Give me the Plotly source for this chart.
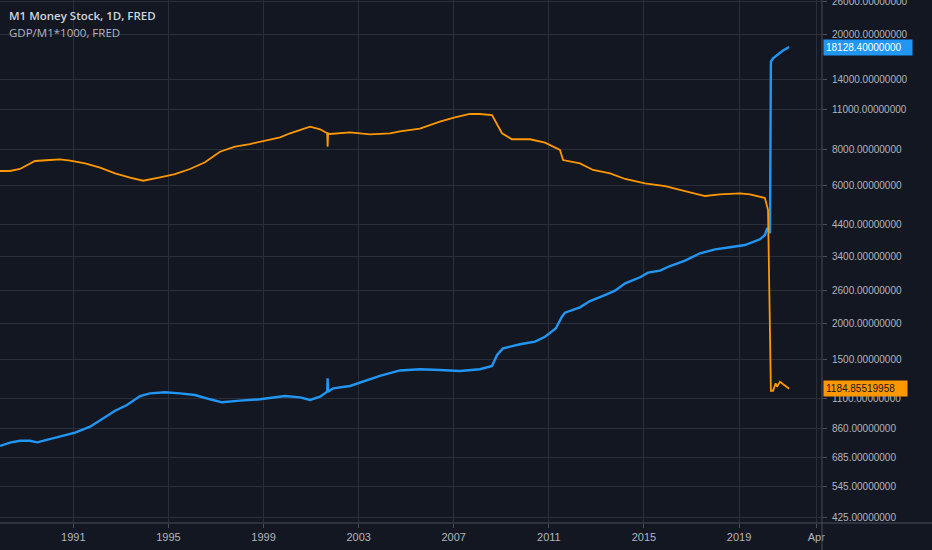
import math
import plotly.graph_objects as go

# ---- data ----
m1_dates = [
    "1987-12-02", "1988-05-03", "1988-10-04", "1989-03-07", "1989-06-24", "1990-01-08",
    "1990-08-28", "1991-01-29", "1991-09-16", "1992-02-16", "1992-10-04", "1993-04-05",
    "1993-10-23", "1994-03-25", "1994-11-10", "1995-06-28", "1996-02-13", "1996-10-01",
    "1997-04-05", "1998-01-04", "1998-11-07", "1999-11-28", "2000-07-15", "2000-12-16",
    "2001-05-19", "2001-09-05", "2001-09-12", "2001-09-19", "2001-12-05", "2002-08-22",
    "2003-04-09", "2003-11-24", "2004-09-27", "2005-07-31", "2006-06-02", "2007-04-05",
    "2008-02-06", "2008-08-11", "2008-10-27", "2009-01-26", "2009-10-16", "2010-06-03",
    "2010-11-03", "2011-04-20", "2011-07-20", "2011-09-05", "2012-04-23", "2012-09-24",
    "2013-05-11", "2013-10-13", "2014-03-18", "2014-11-03", "2015-03-04", "2015-09-05",
    "2016-02-06", "2016-09-23", "2017-05-11", "2017-12-28", "2018-08-15", "2019-04-02",
    "2019-11-17", "2020-02-02", "2020-03-10", "2020-04-20", "2020-05-04", "2020-06-06",
    "2020-11-06", "2021-02-09",
]
m1_values = [
    751, 771, 783, 783, 773, 792,
    815, 835, 876, 924, 995, 1041,
    1119, 1143, 1153, 1143, 1128, 1090,
    1064, 1078, 1090, 1119, 1107, 1084,
    1113, 1158, 1289, 1158, 1190, 1212,
    1264, 1313, 1372, 1385, 1377, 1366,
    1385, 1422, 1552, 1637, 1691, 1726,
    1796, 1921, 2107, 2175, 2271, 2388,
    2505, 2593, 2751, 2886, 2994, 3042,
    3158, 3295, 3495, 3608, 3666, 3734,
    3908, 4045, 4277, 4100, 16126, 16568,
    17631, 18128.4,
]

ratio_dates = [
    "1987-12-02", "1988-05-03", "1988-10-04", "1989-05-22", "1990-01-08", "1990-06-10",
    "1990-11-14", "1991-07-02", "1992-02-16", "1992-10-04", "1993-05-22", "1993-12-09",
    "1994-08-25", "1995-04-12", "1995-11-28", "1996-07-16", "1997-03-03", "1997-10-19",
    "1998-06-06", "1999-01-26", "1999-09-12", "2000-02-13", "2000-07-15", "2000-12-16",
    "2001-05-19", "2001-09-05", "2001-09-12", "2001-09-19", "2001-10-20", "2002-08-22",
    "2003-06-24", "2004-04-26", "2004-09-27", "2005-02-27", "2005-07-31", "2006-06-02",
    "2007-01-18", "2007-09-05", "2008-02-06", "2008-08-11", "2008-11-10", "2009-01-11",
    "2009-06-13", "2010-03-18", "2010-11-03", "2011-06-21", "2011-08-07", "2012-04-23",
    "2012-11-10", "2013-07-31", "2014-03-18", "2015-01-18", "2015-11-21", "2016-09-23",
    "2017-07-27", "2018-03-14", "2019-01-15", "2019-06-17", "2019-11-17", "2020-02-02",
    "2020-03-21", "2020-05-04", "2020-06-06", "2020-07-16", "2020-08-07", "2020-09-20",
    "2021-02-09",
]
ratio_values = [
    6741, 6741, 6850, 7301, 7358, 7398,
    7318, 7166, 6919, 6617, 6389, 6238,
    6409, 6580, 6850, 7225, 7863, 8182,
    8360, 8565, 8822, 9108, 9350, 9600,
    9401, 9108, 8182, 9108, 9057, 9180,
    9035, 9108, 9250, 9350, 9450, 9991,
    10350, 10625, 10625, 10540, 9600, 9108,
    8683, 8683, 8449, 7970, 7358, 7166,
    6796, 6617, 6324, 6111, 5979, 5759,
    5521, 5597, 5641, 5597, 5491, 5435,
    4937, 1167, 1167, 1238, 1205, 1254,
    1184.85519958,
]

y_ticks = [425, 545, 685, 860, 1100, 1500, 2000, 2600, 3400, 4400, 6000, 8000,
           11000, 14000, 20000, 26000]
x_tick_dates = ["1991-01-01", "1995-01-01", "1999-01-01", "2003-01-01", "2007-01-01",
                "2011-01-01", "2015-01-01", "2019-01-01", "2022-04-01"]
x_tick_labels = ["1991", "1995", "1999", "2003", "2007", "2011", "2015", "2019", "Apr"]

series_names = ["M1 Money Stock, 1D, FRED", "GDP/M1*1000, FRED"]
last_m1 = "18128.40000000"
last_ratio = "1184.85519958"

BG = "#131722"
GRID = "#2a2e39"
BORDER = "#4b4f5b"
TXT = "#b2b5be"
BLUE = "#2196f3"
ORANGE = "#ff9800"
NUMFONT = "Liberation Sans, Arial, sans-serif"

fig = go.Figure()
fig.add_trace(go.Scatter(x=m1_dates, y=m1_values, mode="lines",
                         line=dict(color=BLUE, width=2.4), hoverinfo="skip"))
fig.add_trace(go.Scatter(x=ratio_dates, y=ratio_values, mode="lines",
                         line=dict(color=ORANGE, width=1.8), hoverinfo="skip"))

fig.update_layout(
    width=932, height=550,
    margin=dict(l=0, r=110, t=0, b=27, autoexpand=False),
    paper_bgcolor=BG, plot_bgcolor=BG,
    showlegend=False,
    font=dict(family=NUMFONT, color=TXT, size=11),
    xaxis=dict(
        type="date", range=["1987-12-02", "2022-06-28"],
        tickvals=x_tick_dates, ticktext=x_tick_labels,
        showgrid=True, gridcolor=GRID, gridwidth=1,
        ticks="outside", ticklen=4, tickcolor=BORDER,
        showline=False, zeroline=False,
        tickfont=dict(size=11, color=TXT),
    ),
    yaxis=dict(
        type="log", side="right",
        range=[2.6086, 4.4214],
        tickvals=y_ticks, ticktext=["%.8f" % v for v in y_ticks],
        showgrid=True, gridcolor=GRID, gridwidth=1,
        ticks="outside", ticklen=4, tickcolor=BORDER,
        showline=False, zeroline=False,
        ticklabeloverflow="allow", ticklabelstandoff=3,
        tickfont=dict(size=10, color=TXT, family=NUMFONT),
    ),
    shapes=[
        dict(type="line", xref="paper", yref="paper", x0=1, x1=1, y0=-27 / 523, y1=1,
             line=dict(color=BORDER, width=1)),
        dict(type="line", xref="paper", yref="paper", x0=0, x1=932 / 822, y0=0, y1=0,
             line=dict(color=BORDER, width=1)),
    ],
    annotations=[
        dict(text=series_names[0], xref="paper", yref="paper", x=7 / 822, y=1 - 15.5 / 523,
             xanchor="left", yanchor="middle", showarrow=False,
             font=dict(family="Open Sans, Noto Sans, sans-serif", size=11.5,
                       color="#d1d4dc", weight=600)),
        dict(text=series_names[1], xref="paper", yref="paper", x=7 / 822, y=1 - 32 / 523,
             xanchor="left", yanchor="middle", showarrow=False,
             font=dict(family="Open Sans, Noto Sans, sans-serif", size=11.5, color="#b2b5be")),
        dict(text=last_m1, xref="paper", yref="y", x=1, y=math.log10(m1_values[-1]),
             xanchor="left", yanchor="middle", showarrow=False, xshift=1,
             bgcolor=BLUE, borderpad=2, width=84, align="left",
             font=dict(size=10, color="#ffffff", family=NUMFONT)),
        dict(text=last_ratio, xref="paper", yref="y", x=1, y=math.log10(ratio_values[-1]),
             xanchor="left", yanchor="middle", showarrow=False, xshift=1,
             bgcolor=ORANGE, borderpad=2, width=79, align="left",
             font=dict(size=10, color="#131722", family=NUMFONT)),
    ],
)

fig.write_html(
    "out.html",
    config={"displayModeBar": False},
    post_script="document.body.style.margin='0';document.body.style.background='#131722';",
)
